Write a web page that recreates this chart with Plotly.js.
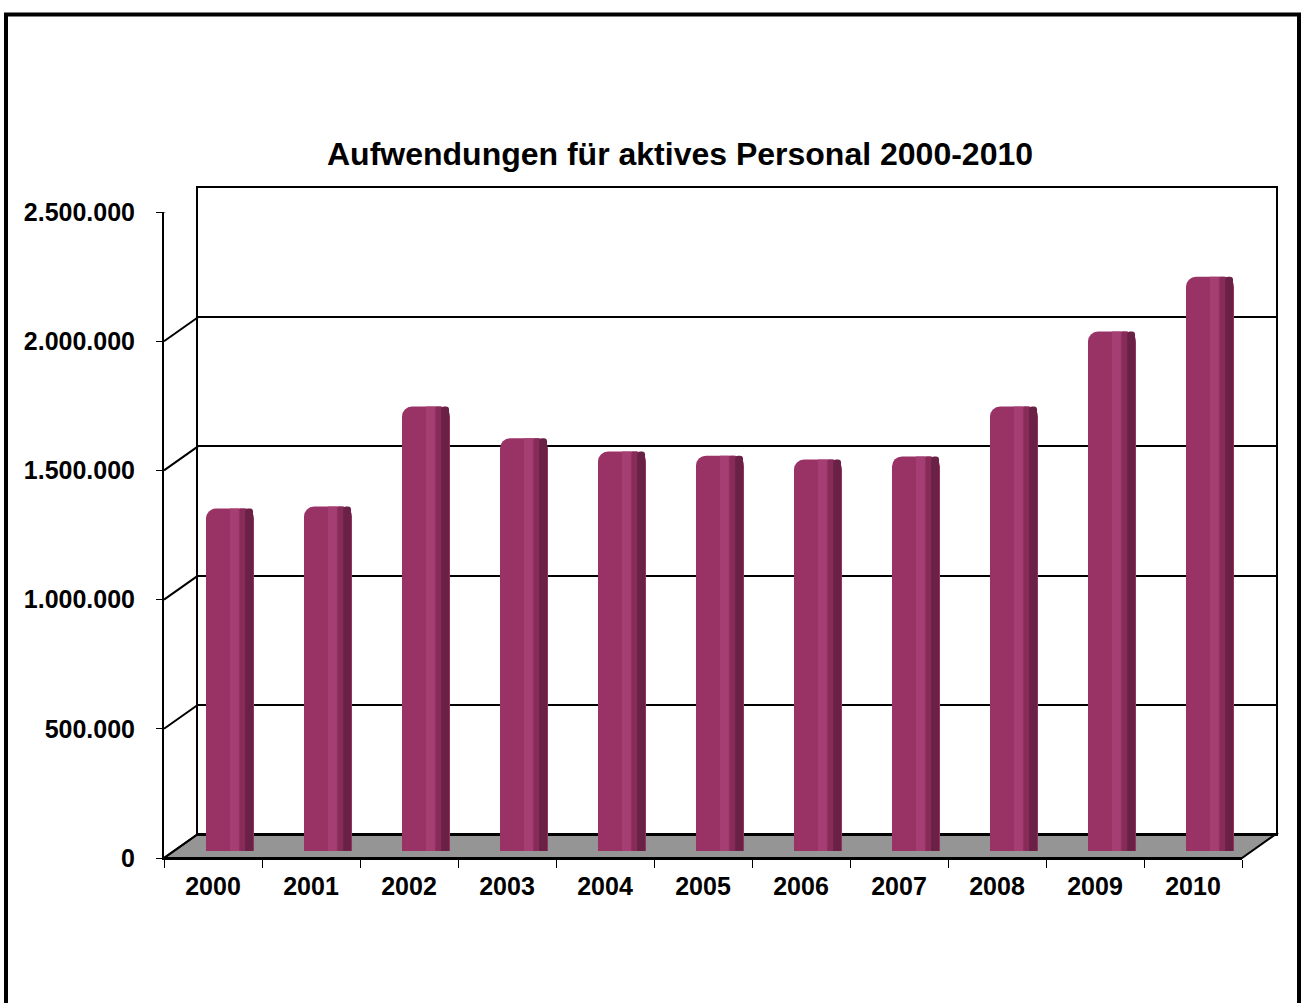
<!DOCTYPE html>
<html>
<head>
<meta charset="utf-8">
<script src="https://cdn.plot.ly/plotly-3.0.1.min.js"></script>
<style>html,body{margin:0;padding:0;background:#fff;}#chart{width:1301px;height:1003px;}</style>
</head>
<body>
<div id="chart"></div>
<script>
// ---- data ----
var years = ["2000","2001","2002","2003","2004","2005","2006","2007","2008","2009","2010"];
var expenses = [1325000, 1333000, 1720000, 1597000, 1546000, 1530000, 1515000, 1527000, 1720000, 2010000, 2222000];
var yTicks = [0, 500000, 1000000, 1500000, 2000000, 2500000];
var titleText = "Aufwendungen für aktives Personal 2000-2010";

// ---- geometry helpers (pixels -> paper) ----
var W = 1301, H = 1003;
function px(x){ return x / W; }
function py(y){ return 1 - y / H; }
var DX = 34, DY = 24; // depth offset of the back wall

var FONT = "Arial, 'Liberation Sans', sans-serif";

var traces = [];
// dummy invisible traces so the front and back axes render
traces.push({x: years, y: expenses, xaxis: 'x', yaxis: 'y', type: 'scatter', mode: 'markers',
  marker: {opacity: 0}, hoverinfo: 'skip', showlegend: false});
traces.push({x: years, y: expenses, xaxis: 'x2', yaxis: 'y2', type: 'scatter', mode: 'markers',
  marker: {opacity: 0}, hoverinfo: 'skip', showlegend: false});

// bars (mid-depth axis), drawn as overlaid layers for a cylinder look
function barLayer(color, offset, width, radius){
  return {x: years, y: expenses, xaxis: 'x3', yaxis: 'y3', type: 'bar',
    offset: offset, width: width,
    marker: {color: color, line: {width: 0}, cornerradius: radius},
    hoverinfo: 'skip', showlegend: false};
}
traces.push(barLayer('#993366', -0.245, 0.49, 10));
traces.push(barLayer('#a53e72', 0.0, 0.09, 0));
traces.push(barLayer('#872b59', 0.10, 0.06, 0));
traces.push(barLayer('#6a2146', 0.155, 0.08, 5));

var shapes = [];
// outer frame
shapes.push({type: 'rect', xref: 'paper', yref: 'paper', x0: px(6), x1: px(1299), y0: py(1015), y1: py(14.5),
  line: {color: '#000', width: 4}, layer: 'below'});
// floor
shapes.push({type: 'path', xref: 'paper', yref: 'paper', layer: 'below',
  path: 'M ' + px(164) + ' ' + py(858) + ' L ' + px(1242) + ' ' + py(858) + ' L ' + px(1276) + ' ' + py(834) +
        ' L ' + px(198) + ' ' + py(834) + ' Z',
  fillcolor: '#959595', line: {color: '#000', width: 2}});
// left wall diagonals at each tick level
yTicks.forEach(function(v){
  shapes.push({type: 'line', xref: 'x domain', yref: 'y', layer: 'below',
    xsizemode: 'pixel', xanchor: 0, x0: 0, x1: DX,
    ysizemode: 'pixel', yanchor: v, y0: 0, y1: DY,
    line: {color: '#000', width: 2}});
});

var axisFont = {family: FONT, size: 25, color: '#000', weight: 'bold'};

var layout = {
  width: W, height: H,
  margin: {l: 0, r: 0, t: 0, b: 0},
  paper_bgcolor: '#fff', plot_bgcolor: 'rgba(0,0,0,0)',
  separators: ',.',
  barmode: 'overlay',
  showlegend: false,
  hovermode: false,
  title: {text: titleText, font: {family: FONT, size: 32, color: '#000', weight: 'bold'},
    x: px(680), xanchor: 'center', xref: 'paper', y: py(154), yanchor: 'middle', yref: 'paper'},
  // front axes
  xaxis: {domain: [px(164), px(1242)], anchor: 'y', type: 'category', categoryarray: years,
    range: [-0.5, 10.5], showgrid: false, zeroline: false, showline: true, linecolor: '#000', linewidth: 2,
    ticks: 'outside', tickson: 'boundaries', ticklen: 8, tickwidth: 1, tickcolor: '#000',
    tickfont: axisFont, ticklabelstandoff: 5, fixedrange: true},
  yaxis: {domain: [py(858), py(212)], anchor: 'x', range: [0, 2500000], tickvals: yTicks,
    tickformat: ',d', showgrid: false, zeroline: false, showline: true, linecolor: '#000', linewidth: 2,
    ticks: 'outside', ticklen: 6, tickwidth: 1, tickcolor: '#000', tickfont: axisFont,
    ticklabelstandoff: 16, fixedrange: true},
  // back wall
  xaxis2: {domain: [px(198), px(1276)], anchor: 'y2', type: 'category', categoryarray: years,
    range: [-0.5, 10.5], showgrid: false, zeroline: false, showline: true, mirror: true,
    linecolor: '#000', linewidth: 2, showticklabels: false, ticks: '', fixedrange: true},
  yaxis2: {domain: [py(834), py(188)], anchor: 'x2', range: [0, 2500000], tickvals: yTicks,
    showgrid: true, gridcolor: '#000', gridwidth: 2, zeroline: false, showline: true, mirror: true,
    linecolor: '#000', linewidth: 2, showticklabels: false, ticks: '', fixedrange: true},
  // mid-depth axes carrying the bars
  xaxis3: {domain: [px(181), px(1259)], anchor: 'y3', type: 'category', categoryarray: years,
    range: [-0.5, 10.5], visible: false, fixedrange: true},
  yaxis3: {domain: [py(851), py(205)], anchor: 'x3', range: [0, 2500000], visible: false, fixedrange: true},
  shapes: shapes
};

Plotly.newPlot('chart', traces, layout, {displayModeBar: false, staticPlot: true});
</script>
</body>
</html>
